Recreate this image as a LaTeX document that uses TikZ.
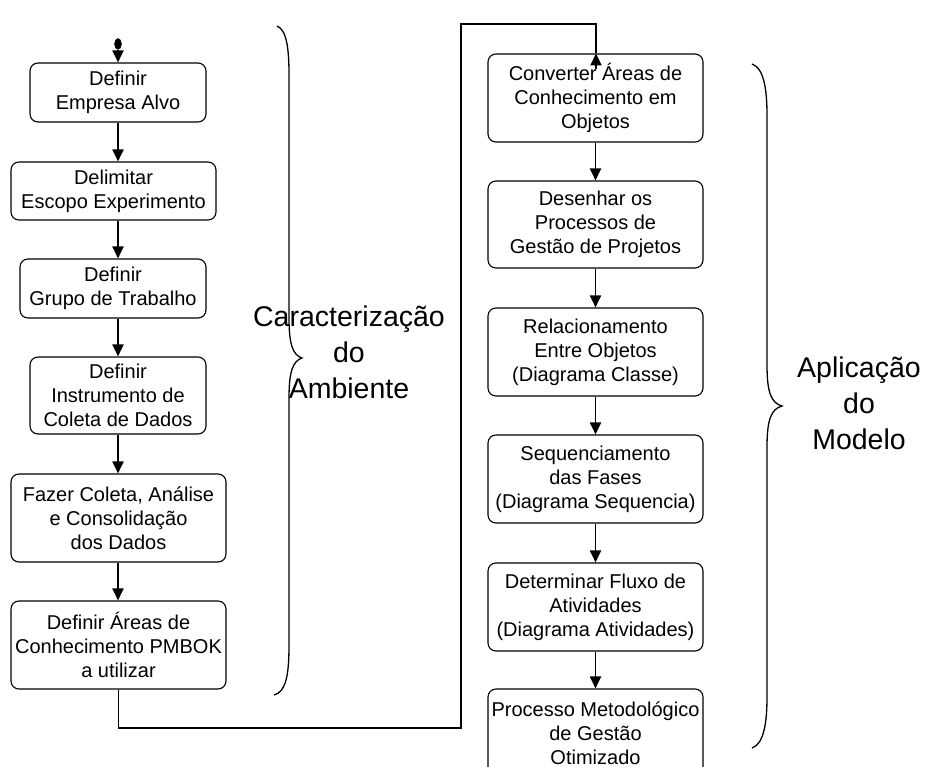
\documentclass[tikz,border=0pt]{standalone}
\usepackage{fontspec}
\setmainfont{Liberation Sans}
\usetikzlibrary{arrows.meta,shapes.geometric}

\tikzset{
  stepbox/.style={draw=black, line width=1.1pt, rounded corners=8pt, fill=white,
    align=center, inner sep=0pt, font=\fontsize{20}{24}\selectfont},
  flow/.style={line width=1.9pt, -{Triangle[length=12pt,width=11pt]}},
  link/.style={line width=1.5pt},
  bracebig/.style={line width=1.3pt},
  phase/.style={align=center, font=\fontsize{28.5}{36}\selectfont}
}

\begin{document}
\begin{tikzpicture}[x=1pt,y=-1pt]
  \useasboundingbox (0,0) rectangle (931,767);

  % start point
  \node[draw, fill=black, ellipse, minimum width=7pt, minimum height=11pt, inner sep=0pt] (start) at (118,44) {};

  % first phase: environment characterisation
  \node[stepbox, minimum width=176pt, minimum height=59pt] (b1) at (118,92.5) {Definir\\Empresa Alvo};
  \node[stepbox, minimum width=205pt, minimum height=58pt] (b2) at (113.5,191) {Delimitar\\Escopo Experimento};
  \node[stepbox, minimum width=186pt, minimum height=59pt] (b3) at (113,288.5) {Definir\\Grupo de Trabalho};
  \node[stepbox, minimum width=176pt, minimum height=77pt] (b4) at (118,395.5) {Definir\\Instrumento de\\Coleta de Dados};
  \node[stepbox, minimum width=215pt, minimum height=88pt] (b5) at (118.5,518) {Fazer Coleta, Análise\\e Consolidação\\dos Dados};
  \node[stepbox, minimum width=215pt, minimum height=88pt] (b6) at (118.5,645) {Definir Áreas de\\Conhecimento PMBOK\\a utilizar};

  % second phase: model application
  \node[stepbox, minimum width=215pt, minimum height=88pt] (b7) at (595.5,98) {Converter Áreas de\\Conhecimento em\\Objetos};
  \node[stepbox, minimum width=215pt, minimum height=87pt] (b8) at (595.5,224.5) {Desenhar os\\Processos de\\Gestão de Projetos};
  \node[stepbox, minimum width=215pt, minimum height=88pt] (b9) at (595.5,352) {Relacionamento\\Entre Objetos\\(Diagrama Classe)};
  \node[stepbox, minimum width=215pt, minimum height=88pt] (b10) at (595.5,479) {Sequenciamento\\das Fases\\(Diagrama Sequencia)};
  \node[stepbox, minimum width=215pt, minimum height=88pt] (b11) at (595.5,607) {Determinar Fluxo de\\Atividades\\(Diagrama Atividades)};
  \node[stepbox, minimum width=215pt, minimum height=88pt] (b12) at (595.5,733) {Processo Metodológico\\de Gestão\\Otimizado};

  % flow arrows
  \draw[flow] (start.south) -- (start.south |- b1.north);
  \draw[flow] (b1.south) -- (b1.south |- b2.north);
  \draw[flow] (b1.south |- b2.south) -- (b1.south |- b3.north);
  \draw[flow] (b1.south |- b3.south) -- (b1.south |- b4.north);
  \draw[flow] (b4.south) -- (b4.south |- b5.north);
  \draw[flow] (b4.south |- b5.south) -- (b4.south |- b6.north);

  % link from the first column to the second
  \coordinate (j1) at (461,728);
  \coordinate (j2) at (461,24);
  \draw[link] (b6.south) |- (j1) -- (j2) -| ([xshift=0.5pt]b7.north);
  \draw[flow] ([xshift=0.5pt,yshift=-16pt]b7.north) -- ([xshift=0.5pt]b7.north);

  \draw[flow] (b7.south) -- (b8.north);
  \draw[flow] (b8.south) -- (b9.north);
  \draw[flow] (b9.south) -- (b10.north);
  \draw[flow] (b10.south) -- (b11.north);
  \draw[flow] (b11.south) -- (b12.north);

  % braces
  \coordinate (lt) at (277,26);
  \coordinate (lm) at (302,358);
  \coordinate (lb) at (274,695);
  \draw[bracebig] (lt) .. controls (287,30) and (289,50) .. (289,75)
    -- (289,318) .. controls (289,345) and (293,355) .. (lm)
    .. controls (293,361) and (289,371) .. (289,398)
    -- (289,645) .. controls (289,675) and (286,692) .. (lb);

  \coordinate (rt) at (752,64);
  \coordinate (rm) at (782,406);
  \coordinate (rb) at (752,748);
  \draw[bracebig] (rt) .. controls (764,68) and (767,90) .. (767,115)
    -- (767,365) .. controls (767,392) and (771,403) .. (rm)
    .. controls (771,409) and (767,420) .. (767,447)
    -- (767,697) .. controls (767,722) and (764,744) .. (rb);

  % phase labels
  \node[phase] (lab1) at (349,352) {Caracterização\\do\\Ambiente};
  \node[phase] (lab2) at (859,403) {Aplicação\\do\\Modelo};
\end{tikzpicture}
\end{document}
